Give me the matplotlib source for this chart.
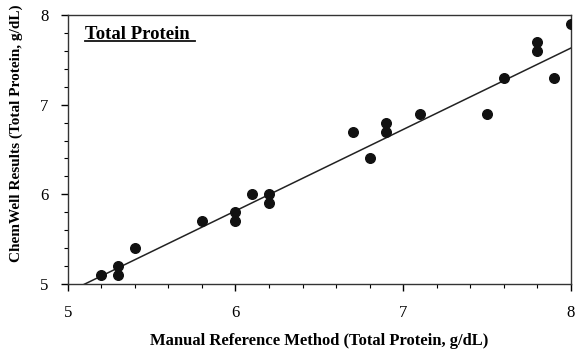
import numpy as np
import matplotlib.pyplot as plt

plt.rcParams['font.family'] = ['Liberation Serif', 'DejaVu Serif']

# manual reference vs ChemWell, total protein (g/dL)
manual = [5.2, 5.3, 5.3, 5.4, 5.8, 6.0, 6.0, 6.1, 6.2, 6.2, 6.7, 6.8, 6.9, 6.9,
          7.1, 7.5, 7.6, 7.8, 7.8, 7.9, 8.0]
chemwell = [5.1, 5.2, 5.1, 5.4, 5.7, 5.8, 5.7, 6.0, 6.0, 5.9, 6.7, 6.4, 6.8, 6.7,
            6.9, 6.9, 7.3, 7.7, 7.6, 7.3, 7.9]

# regression line
slope = 0.907
intercept = 0.374
line_x = [5, 8]

fig = plt.figure(figsize=(5.8, 3.56), dpi=100)
ax = fig.add_axes([0.117, 0.202, 0.867, 0.756])

ax.scatter(manual, chemwell, s=48, color='#111111', zorder=3)
lx = np.array(line_x)
ax.plot(lx, slope * lx + intercept, color='#222222', lw=1.1)

ax.set_xlim(5, 8)
ax.set_ylim(5, 8)
ax.set_xticks([5, 6, 7, 8])
ax.set_yticks([5, 6, 7, 8])
ax.set_xticks(np.arange(5, 8.01, 0.2), minor=True)
ax.set_yticks(np.arange(5, 8.01, 0.2), minor=True)
ax.tick_params(which='major', length=5, width=1, labelsize=12)
ax.tick_params(axis='x', which='major', pad=10)
ax.tick_params(axis='y', which='major', pad=9)
ax.tick_params(which='minor', length=3, width=0.8)
for s in ax.spines.values():
    s.set_linewidth(1)
    s.set_color('#333333')

ax.set_xlabel('Manual Reference Method (Total Protein, g/dL)', fontsize=12,
              fontweight='bold', labelpad=9)
ax.set_ylabel('ChemWell Results (Total Protein, g/dL)', fontsize=11,
              fontweight='bold', labelpad=12)
ax.yaxis.set_label_coords(-0.09, 0.56)

ax.text(0.034, 0.912, 'Total Protein', transform=ax.transAxes, fontsize=13.5,
        fontweight='bold', va='baseline')
ax.plot([0.034, 0.253], [0.902, 0.902], transform=ax.transAxes, color='#111111',
        lw=1.3, clip_on=False)

fig.savefig('out.png', dpi=100)
